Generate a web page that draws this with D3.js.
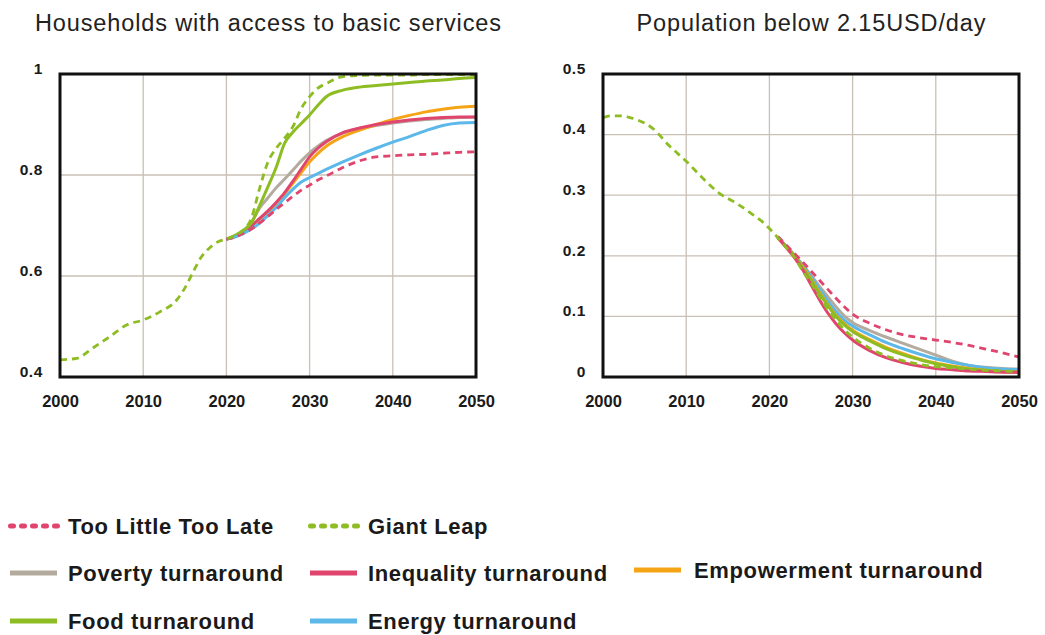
<!DOCTYPE html>
<html>
<head>
<meta charset="utf-8">
<script src="https://cdn.jsdelivr.net/npm/d3@7"></script>
<style>
  html, body { margin: 0; padding: 0; background: #fff; }
  svg { display: block; font-family: "Liberation Sans", Arial, Helvetica, sans-serif; }
</style>
</head>
<body>
<svg id="chart" width="1045" height="635"></svg>
<script>
// ---------- DATA ----------
const xTicks = [2000, 2010, 2020, 2030, 2040, 2050];
const basicYTicks = [0.4, 0.6, 0.8, 1];
const basicYLabels = ["0.4", "0.6", "0.8", "1"];
const povYTicks = [0, 0.1, 0.2, 0.3, 0.4, 0.5];
const povYLabels = ["0", "0.1", "0.2", "0.3", "0.4", "0.5"];

// Households with access to basic services
const basicHistYears = [2000, 2002, 2004, 2006, 2008, 2010, 2012, 2014, 2015, 2016, 2017, 2018, 2019];
const basicHistValues = [0.434, 0.437, 0.458, 0.48, 0.503, 0.513, 0.529, 0.552, 0.576, 0.608, 0.638, 0.656, 0.668];
const basicYears = [2020, 2021, 2022, 2023, 2024, 2025, 2026, 2027, 2028, 2029, 2030, 2031, 2032, 2034, 2036, 2038, 2040, 2042, 2044, 2046, 2048, 2050];
const basicGiantLeap   = [0.673,0.68,0.69,0.714,0.774,0.826,0.853,0.873,0.896,0.932,0.955,0.972,0.981,0.995,0.997,0.998,0.998,0.998,0.999,0.999,0.999,0.999];
const basicFood        = [0.673,0.68,0.69,0.705,0.74,0.777,0.816,0.863,0.885,0.902,0.919,0.938,0.955,0.968,0.974,0.977,0.98,0.983,0.986,0.988,0.991,0.993];
const basicPoverty     = [0.673,0.679,0.689,0.706,0.735,0.755,0.775,0.792,0.81,0.828,0.844,0.857,0.868,0.883,0.892,0.898,0.903,0.907,0.91,0.912,0.914,0.915];
const basicInequality  = [0.673,0.678,0.687,0.699,0.714,0.729,0.746,0.765,0.788,0.812,0.836,0.853,0.866,0.884,0.893,0.9,0.905,0.909,0.912,0.914,0.915,0.915];
const basicEmpowerment = [0.673,0.678,0.687,0.699,0.713,0.727,0.744,0.763,0.784,0.805,0.826,0.843,0.857,0.876,0.889,0.9,0.91,0.918,0.925,0.93,0.934,0.936];
const basicEnergy      = [0.673,0.677,0.684,0.693,0.705,0.72,0.736,0.755,0.772,0.786,0.795,0.803,0.811,0.826,0.84,0.853,0.865,0.876,0.888,0.898,0.903,0.904];
const basicTooLittle   = [0.673,0.677,0.684,0.693,0.705,0.718,0.732,0.745,0.758,0.77,0.78,0.79,0.798,0.815,0.828,0.836,0.838,0.84,0.841,0.843,0.845,0.846];

// Population below 2.15USD/day
const povHistYears = [2000, 2001, 2002, 2003, 2004, 2006, 2008, 2010, 2012, 2014, 2016, 2018, 2019, 2020];
const povHistValues = [0.428, 0.431, 0.431, 0.429, 0.425, 0.41, 0.381, 0.356, 0.328, 0.303, 0.287, 0.268, 0.258, 0.245];
const povYears = [2021, 2022, 2023, 2024, 2025, 2026, 2027, 2028, 2029, 2030, 2032, 2034, 2036, 2038, 2040, 2042, 2044, 2046, 2048, 2050];
const povGiantLeap   = [0.23,0.214,0.198,0.175,0.155,0.133,0.112,0.094,0.078,0.066,0.048,0.035,0.027,0.021,0.017,0.015,0.013,0.011,0.01,0.009];
const povInequality  = [0.23,0.214,0.197,0.177,0.152,0.128,0.106,0.088,0.073,0.061,0.044,0.032,0.024,0.018,0.014,0.012,0.01,0.009,0.008,0.008];
const povEmpowerment = [0.23,0.215,0.2,0.182,0.162,0.14,0.12,0.102,0.088,0.077,0.062,0.049,0.039,0.03,0.023,0.018,0.014,0.011,0.009,0.008];
const povFood        = [0.23,0.215,0.2,0.18,0.16,0.138,0.118,0.1,0.086,0.075,0.06,0.047,0.037,0.029,0.022,0.017,0.013,0.011,0.009,0.008];
const povEnergy      = [0.231,0.216,0.201,0.185,0.166,0.146,0.126,0.108,0.094,0.084,0.07,0.057,0.047,0.038,0.03,0.024,0.019,0.015,0.013,0.012];
const povPoverty     = [0.231,0.216,0.201,0.185,0.168,0.15,0.133,0.116,0.101,0.09,0.077,0.066,0.056,0.046,0.036,0.026,0.019,0.016,0.014,0.013];
const povTooLittle   = [0.232,0.218,0.204,0.19,0.175,0.16,0.145,0.13,0.116,0.104,0.089,0.078,0.07,0.065,0.061,0.057,0.052,0.046,0.04,0.033];

const seriesNames = ["Too Little Too Late", "Giant Leap", "Poverty turnaround", "Inequality turnaround", "Empowerment turnaround", "Food turnaround", "Energy turnaround"];
const seriesColors = ["#e0456e", "#8dbd22", "#b4ab9f", "#e0456e", "#f5a416", "#8dbd22", "#5cb8e8"];
const seriesDashed = [true, true, false, false, false, false, false];

// ---------- DRAW ----------
const svg = d3.select("#chart");
const textColor = "#1a1a1a";
const gridColor = "#c9c0b6";

function zip(years, vals) { return years.map((y, i) => ({ year: y, value: vals[i] })); }

function drawPanel(cfg) {
  const x = d3.scaleLinear().domain([2000, 2050]).range([cfg.left, cfg.left + 416]);
  const y = d3.scaleLinear().domain(cfg.yDomain).range([377, 74]);
  const g = svg.append("g");

  // title
  g.append("text")
    .attr("x", (cfg.left + cfg.left + 416) / 2).attr("y", 31)
    .attr("text-anchor", "middle")
    .attr("font-size", 23.5).attr("fill", "#222")
    .attr("textLength", cfg.titleLen).attr("lengthAdjust", "spacing")
    .text(cfg.title);

  // grid
  g.append("g").selectAll("line.v").data(xTicks).join("line")
    .attr("x1", d => x(d)).attr("x2", d => x(d))
    .attr("y1", 74).attr("y2", 377)
    .attr("stroke", gridColor).attr("stroke-width", 1.3);
  g.append("g").selectAll("line.h").data(cfg.yTicks).join("line")
    .attr("x1", cfg.left).attr("x2", cfg.left + 416)
    .attr("y1", d => y(d)).attr("y2", d => y(d))
    .attr("stroke", gridColor).attr("stroke-width", 1.3);

  // clip
  const clipId = "clip" + cfg.left;
  svg.append("clipPath").attr("id", clipId).append("rect")
    .attr("x", cfg.left).attr("y", 74).attr("width", 416).attr("height", 303);

  const line = d3.line().x(d => x(d.year)).y(d => y(d.value)).curve(d3.curveMonotoneX);
  const lines = g.append("g").attr("clip-path", `url(#${clipId})`);
  cfg.series.forEach(s => {
    lines.append("path")
      .datum(s.data)
      .attr("d", line)
      .attr("fill", "none")
      .attr("stroke", seriesColors[s.idx])
      .attr("stroke-width", seriesDashed[s.idx] ? 2.8 : 3)
      .attr("stroke-dasharray", seriesDashed[s.idx] ? "7,5" : null)
      .attr("stroke-linejoin", "round");
  });

  // frame
  g.append("rect").attr("x", cfg.left).attr("y", 74).attr("width", 416).attr("height", 303)
    .attr("fill", "none").attr("stroke", "#111").attr("stroke-width", 3);

  // axes labels
  const xAxis = d3.axisBottom(x).tickValues(xTicks).tickFormat(d3.format("d")).tickSize(0).tickPadding(0);
  const xa = g.append("g").attr("transform", "translate(0,395)").call(xAxis);
  xa.select(".domain").remove();
  xa.selectAll("text").attr("font-size", 16.5).attr("font-weight", "bold").attr("fill", textColor)
    .attr("font-family", "Liberation Sans, Arial, sans-serif").attr("dy", "0.71em");

  const yAxis = d3.axisLeft(y).tickValues(cfg.yTicks).tickFormat((d, i) => cfg.yLabels[i]).tickSize(0).tickPadding(0);
  const ya = g.append("g").attr("transform", `translate(${cfg.left - 17},0)`).call(yAxis);
  ya.select(".domain").remove();
  ya.selectAll("text").attr("font-size", 15.5).attr("font-weight", "bold").attr("fill", textColor)
    .attr("font-family", "Liberation Sans, Arial, sans-serif").attr("dy", "-0.05em")
    .attr("letter-spacing", "0.6");
}

drawPanel({
  left: 60,
  yDomain: [0.4, 1],
  yTicks: basicYTicks,
  yLabels: basicYLabels,
  title: "Households with access to basic services",
  titleLen: 466,
  series: [
    { idx: 2, data: zip(basicYears, basicPoverty) },
    { idx: 4, data: zip(basicYears, basicEmpowerment) },
    { idx: 3, data: zip(basicYears, basicInequality) },
    { idx: 5, data: zip(basicYears, basicFood) },
    { idx: 6, data: zip(basicYears, basicEnergy) },
    { idx: 0, data: zip(basicYears, basicTooLittle) },
    { idx: 1, data: zip(basicHistYears.concat(basicYears), basicHistValues.concat(basicGiantLeap)) }
  ]
});

drawPanel({
  left: 603,
  yDomain: [0, 0.5],
  yTicks: povYTicks,
  yLabels: povYLabels,
  title: "Population below 2.15USD/day",
  titleLen: 349,
  series: [
    { idx: 2, data: zip(povYears, povPoverty) },
    { idx: 6, data: zip(povYears, povEnergy) },
    { idx: 4, data: zip(povYears, povEmpowerment) },
    { idx: 5, data: zip(povYears, povFood) },
    { idx: 3, data: zip(povYears, povInequality) },
    { idx: 0, data: zip(povYears, povTooLittle) },
    { idx: 1, data: zip(povHistYears.concat(povYears), povHistValues.concat(povGiantLeap)) }
  ]
});

// ---------- LEGEND ----------
const legendPos = [
  { x: 8, y: 526 }, { x: 308, y: 526 },
  { x: 10, y: 573 }, { x: 310, y: 573 }, { x: 634, y: 570 },
  { x: 10, y: 621 }, { x: 310, y: 621 }
];
const legend = svg.append("g");
seriesNames.forEach((name, i) => {
  const p = legendPos[i];
  const item = legend.append("g");
  if (seriesDashed[i]) {
    item.append("line").attr("x1", p.x + 2.5).attr("x2", p.x + 52).attr("y1", p.y).attr("y2", p.y)
      .attr("stroke", seriesColors[i]).attr("stroke-width", 5)
      .attr("stroke-dasharray", "3,8").attr("stroke-linecap", "round");
  } else {
    item.append("line").attr("x1", p.x).attr("x2", p.x + 47).attr("y1", p.y).attr("y2", p.y)
      .attr("stroke", seriesColors[i]).attr("stroke-width", 5);
  }
  item.append("text")
    .attr("x", (i === 4 ? 694 : (p.x < 100 ? 68 : 368)))
    .attr("y", p.y + 7.5)
    .attr("font-size", 22).attr("font-weight", "bold").attr("fill", textColor)
    .attr("letter-spacing", "0.65")
    .text(name);
});
</script>
</body>
</html>
